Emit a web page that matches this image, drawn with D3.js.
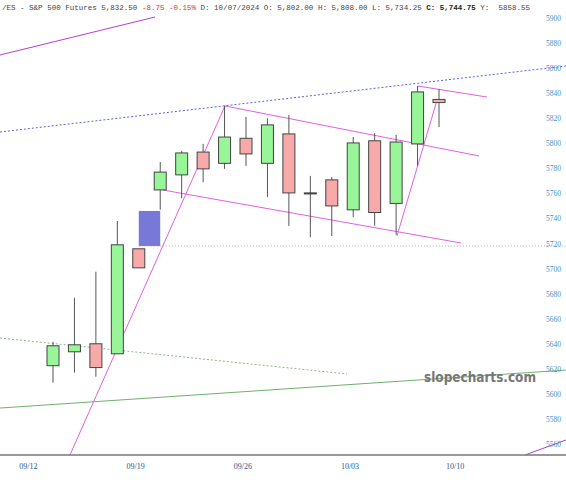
<!DOCTYPE html>
<html><head><meta charset="utf-8">
<script src="https://cdn.jsdelivr.net/npm/d3@7"></script>
<style>body{margin:0;background:#fff}</style>
</head><body><div id="chart"></div>
<script>
// daily candles, index 0..18
const opens  = [5622.5,5633.6,5640,5632,5715.8,5762.8,5774.8,5793,5784,5804,5784,5807.5,5760.4,5770.8,5746.9,5802,5752,5799.5,5835];
const highs  = [5641.6,5676.7,5697.5,5738,5715.8,5785,5794,5799.5,5830,5821,5820,5822.6,5774,5773,5805,5808,5806.7,5845.8,5843.4];
const lows   = [5609,5617,5613.7,5632,5700.6,5747,5756,5769,5779.6,5782,5757,5734,5725,5726,5741,5734.25,5727,5782,5813];
const closes = [5638.4,5639.2,5621,5719,5700.6,5777,5792.3,5779.6,5805,5791.5,5814.7,5760.4,5760.4,5750,5800.3,5744.75,5801,5841,5832.5];
const dateTicks = [[-1.15,"09/12"],[3.85,"09/19"],[8.85,"09/26"],[13.85,"10/03"],[18.75,"10/10"]];
const priceTicks = d3.range(5560, 5901, 20);
const gapBox = {i0: 4, i1: 5, lo: 5718, hi: 5746};
// trendlines: [i0, v0, i1, v1, color, dash]
const trendlines = [
  [-2.47,5870.5,4.76,5900.8,"#b040d0",null],
  [-2.47,5809,23.92,5861.7,"#6060e0","2,2"],
  [0.79,5551.2,8.02,5829.8,"#e060e0",null],
  [8.02,5829.8,19.87,5789.9,"#e060e0",null],
  [5.13,5762.7,19.03,5720.4,"#e060e0",null],
  [17.02,5845.7,20.24,5836.9,"#e060e0",null],
  [16.04,5726,17.91,5834.6,"#e060e0",null],
  [4,5718,24,5718,"#aaaaaa","1,2"],
  [-2.47,5644.6,13.71,5615.9,"#88bb88","2,2"],
  [-2.47,5588.7,23.92,5619,"#70b070",null],
  [22.01,5551.2,23.92,5563.2,"#b040d0",null]
];

const W = 566, H = 480, plotB = 455;
const svg = d3.select("#chart").append("svg").attr("width", W).attr("height", H)
  .style("font-family", "Liberation Serif");
const x = d3.scaleLinear().domain([0, 18]).range([53, 439]);
const y = d3.scaleLinear().domain([5560, 5900]).range([444, 18]);

svg.append("clipPath").attr("id", "clip").append("rect")
  .attr("x", 0).attr("y", 0).attr("width", W).attr("height", plotB);
const g = svg.append("g").attr("clip-path", "url(#clip)");

// watermark
svg.append("text").attr("x", 424).attr("y", 382).attr("font-family", "DejaVu Sans")
  .attr("font-weight", "bold").attr("font-size", 14).attr("fill", "#777")
  .attr("textLength", 112).attr("lengthAdjust", "spacingAndGlyphs").text("slopecharts.com");

g.append("rect").attr("x", x(gapBox.i0)).attr("width", x(gapBox.i1) - x(gapBox.i0))
  .attr("y", y(gapBox.hi)).attr("height", y(gapBox.lo) - y(gapBox.hi)).attr("fill", "#7878d8");

g.selectAll(".tl").data(trendlines).enter().append("line")
  .attr("x1", d => x(d[0])).attr("y1", d => y(d[1]))
  .attr("x2", d => x(d[2])).attr("y2", d => y(d[3]))
  .attr("stroke", d => d[4]).attr("stroke-width", 1)
  .attr("stroke-dasharray", d => d[5]);

const idx = d3.range(opens.length);
g.selectAll(".wick").data(idx).enter().append("line")
  .attr("x1", i => x(i)).attr("x2", i => x(i))
  .attr("y1", i => y(highs[i])).attr("y2", i => y(lows[i]))
  .attr("stroke", "#555");
g.selectAll(".body").data(idx).enter().append("rect")
  .attr("x", i => x(i) - 6).attr("width", 12)
  .attr("y", i => y(Math.max(opens[i], closes[i])))
  .attr("height", i => Math.max(1, Math.abs(y(opens[i]) - y(closes[i]))))
  .attr("fill", i => closes[i] > opens[i] ? "#98f598" : closes[i] < opens[i] ? "#f8aaaa" : "#333")
  .attr("stroke", "#444").attr("stroke-width", 1);

svg.append("line").attr("x1", 0).attr("x2", W).attr("y1", plotB).attr("y2", plotB)
  .attr("stroke", "#777").attr("stroke-width", 1.5);

svg.selectAll(".pt").data(priceTicks).enter().append("text")
  .attr("x", 546).attr("y", d => y(d) + 3).attr("font-size", 7.5).attr("fill", "#4a90c8").text(d => d);
svg.selectAll(".dt").data(dateTicks).enter().append("text")
  .attr("x", d => x(d[0])).attr("y", 469).attr("text-anchor", "middle")
  .attr("font-size", 8).attr("fill", "#2a5a90").text(d => d[1]);

const hdr = svg.append("text").attr("x", 2).attr("y", 10).attr("font-family", "Liberation Mono")
  .attr("font-size", 8).attr("fill", "#444").attr("xml:space", "preserve")
  .attr("textLength", 528).attr("lengthAdjust", "spacingAndGlyphs");
hdr.append("tspan").text("/ES - S&P 500 Futures 5,832.50 ");
hdr.append("tspan").attr("fill", "#e03030").text("-8.75 -0.15%");
hdr.append("tspan").text(" D: 10/07/2024 O: 5,802.00 H: 5,808.00 L: 5,734.25 ");
hdr.append("tspan").attr("font-weight", "bold").attr("fill", "#222").text("C: 5,744.75");
hdr.append("tspan").text(" Y:  5858.55");
</script></body></html>
